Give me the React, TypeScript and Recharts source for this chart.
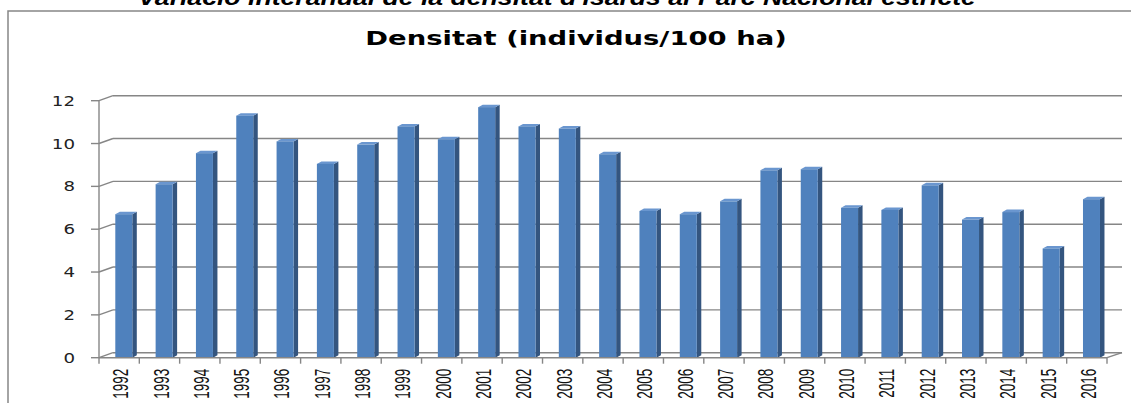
import { BarChart, Bar, XAxis, YAxis, CartesianGrid } from "recharts";

// data
const years = [
  "1992", "1993", "1994", "1995", "1996", "1997", "1998", "1999", "2000",
  "2001", "2002", "2003", "2004", "2005", "2006", "2007", "2008", "2009",
  "2010", "2011", "2012", "2013", "2014", "2015", "2016",
];
const densitat = [
  6.7, 8.1, 9.55, 11.3, 10.1, 9.05, 9.95, 10.8, 10.2, 11.7, 10.8, 10.7, 9.5,
  6.85, 6.7, 7.3, 8.75, 8.8, 7.0, 6.9, 8.05, 6.45, 6.8, 5.1, 7.4,
];
const yTicks = [0, 2, 4, 6, 8, 10, 12];

const superTitle =
  "Variació interanual de la densitat d'isards al Parc Nacional estricte";
const chartTitle = "Densitat (individus/100 ha)";

const W = 1131;
const H = 403;
const PLOT_LEFT = 99;
const PLOT_RIGHT = 1107;
const BAND = (PLOT_RIGHT - PLOT_LEFT) / years.length;

// depth of the fake 3D
const DX = 14;
const DY = -5;
const GRID = "#868686";

const data = years.map((y, i) => ({ year: y, value: densitat[i] }));

function Bar3D(props: any) {
  const { x, y, width, height } = props;
  if (height == null || height <= 0) return null;
  const fx = x + 4.3;
  const dx = 4.5;
  const dy = -2.5;
  return (
    <g>
      <polygon
        points={`${fx + width},${y} ${fx + width + dx},${y + dy} ${fx + width + dx},${y + height + dy} ${fx + width},${y + height}`}
        fill="#34557f"
      />
      <polygon
        points={`${fx},${y} ${fx + dx},${y + dy} ${fx + width + dx},${y + dy} ${fx + width},${y}`}
        fill="#6a96cf"
      />
      <rect x={fx} y={y} width={width} height={height} fill="#4f81bd" />
    </g>
  );
}

function gridLine(props: any) {
  const { x1, y1, x2, key } = props;
  const isFloor = Math.abs(y1 - 357.7) < 1;
  return (
    <g key={key}>
      <line x1={x1} y1={y1} x2={x1 + DX} y2={y1 + DY} stroke={GRID} strokeWidth={1.4} />
      <line x1={x1 + DX} y1={y1 + DY} x2={x2 + DX + 1} y2={y1 + DY} stroke={GRID} strokeWidth={1.4} />
      {isFloor && (
        <line x1={x2} y1={y1} x2={x2 + DX + 1} y2={y1 + DY} stroke={GRID} strokeWidth={1.4} />
      )}
    </g>
  );
}

function YTick(props: any) {
  const { x, y, payload } = props;
  return (
    <text
      transform={`translate(${x},${y}) scale(1.3,1)`}
      textAnchor="end"
      dy="0.36em"
      fontFamily="DejaVu Sans"
      fontSize={14}
      fill="#222"
    >
      {payload.value}
    </text>
  );
}

function XTick(props: any) {
  const { x, y, payload, index } = props;
  const left = x - BAND / 2;
  return (
    <g>
      <line x1={left} y1={y} x2={left} y2={y + 6} stroke={GRID} strokeWidth={1.4} />
      {index === years.length - 1 && (
        <line x1={left + BAND} y1={y} x2={left + BAND} y2={y + 6} stroke={GRID} strokeWidth={1.4} />
      )}
      <text
        transform={`translate(${x + 1},${y + 11}) scale(1.65,1) rotate(-90)`}
        textAnchor="end"
        dy="0.36em"
        fontFamily="Liberation Sans"
        fontSize={13.5}
        fill="#111"
      >
        {payload.value}
      </text>
    </g>
  );
}

export default function App() {
  return (
    <div
      style={{
        position: "absolute",
        left: 0,
        top: 0,
        width: W,
        height: H,
        overflow: "hidden",
        background: "#fff",
      }}
    >
      <svg
        width={W}
        height={H}
        style={{ position: "absolute", left: 0, top: 0 }}
      >
        <rect x={8} y={11} width={1300} height={600} fill="none" stroke={GRID} strokeWidth={1.5} />
        <text
          transform="translate(557,5) scale(1.21,1)"
          textAnchor="middle"
          fontFamily="Liberation Sans"
          fontWeight="bold"
          fontStyle="italic"
          fontSize={22}
          fill="#000"
        >
          {superTitle}
        </text>
        <text
          transform="translate(576,45) scale(1.4,1)"
          textAnchor="middle"
          fontFamily="DejaVu Sans"
          fontWeight="bold"
          fontSize={19.6}
          fill="#000"
        >
          {chartTitle}
        </text>
      </svg>
      <div style={{ position: "absolute", left: 0, top: 0 }}>
        <BarChart
          width={W}
          height={H}
          data={data}
          margin={{ top: 100.7, right: W - PLOT_RIGHT, bottom: 0, left: PLOT_LEFT - 50 }}
          barSize={17}
        >
          <CartesianGrid vertical={false} horizontal={gridLine} />
          <YAxis
            width={50}
            domain={[0, 12]}
            ticks={yTicks}
            interval={0}
            tickSize={8}
            tickMargin={16}
            axisLine={{ stroke: GRID, strokeWidth: 1.4 }}
            tickLine={{ stroke: GRID, strokeWidth: 1.4 }}
            tick={<YTick />}
          />
          <XAxis
            dataKey="year"
            height={45.3}
            interval={0}
            tickLine={false}
            tickSize={0}
            tickMargin={0}
            axisLine={{ stroke: GRID, strokeWidth: 1.4 }}
            tick={<XTick />}
          />
          <Bar dataKey="value" shape={<Bar3D />} isAnimationActive={false} />
        </BarChart>
      </div>
    </div>
  );
}
